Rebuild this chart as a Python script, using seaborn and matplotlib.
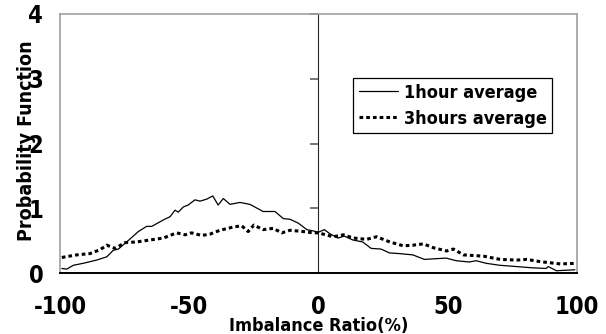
import numpy as np
import pandas as pd
import matplotlib
matplotlib.use("Agg")
import matplotlib.pyplot as plt
import seaborn as sns

# --- data ---
x_1h = [-99.3, -97.4, -94.8, -91.0, -85.8, -81.9, -79.4, -77.4, -74.2, -69.7,
        -66.5, -64.5, -60.0, -57.4, -55.5, -54.2, -52.3, -50.4, -47.8, -45.8,
        -43.3, -40.9, -38.8, -36.8, -34.2, -30.4, -26.5, -21.4, -16.8, -13.6,
        -11.0, -7.8, -4.5, -2.0, 0.0, 2.3, 4.3, 7.5, 10.0, 13.3,
        17.1, 20.4, 24.2, 27.5, 31.3, 36.5, 41.0, 44.9, 49.4, 53.3,
        58.4, 61.0, 64.9, 70.0, 76.5, 82.9, 88.1, 88.9, 92.1, 99.2]
y_1h = [0.07, 0.06, 0.12, 0.15, 0.20, 0.25, 0.35, 0.37, 0.48, 0.64,
        0.72, 0.72, 0.82, 0.87, 0.97, 0.94, 1.02, 1.05, 1.13, 1.11,
        1.14, 1.19, 1.05, 1.15, 1.06, 1.09, 1.06, 0.95, 0.95, 0.84,
        0.83, 0.77, 0.67, 0.65, 0.63, 0.67, 0.61, 0.54, 0.57, 0.51,
        0.48, 0.38, 0.37, 0.31, 0.30, 0.28, 0.21, 0.22, 0.23, 0.19,
        0.17, 0.19, 0.15, 0.12, 0.10, 0.08, 0.07, 0.10, 0.035, 0.05]

x_3h = [-99.3, -93.5, -88.4, -84.5, -81.9, -78.7, -74.8, -70.3, -65.2, -60.0,
        -54.9, -51.6, -49.1, -45.2, -42.0, -38.1, -33.0, -29.7, -27.2, -25.0,
        -21.4, -17.5, -14.2, -11.0, -5.9, -2.0, 0.0, 5.7, 9.6, 13.5,
        18.6, 22.5, 27.6, 32.8, 36.7, 40.6, 44.5, 49.6, 52.2, 56.1,
        63.9, 70.3, 76.8, 80.6, 85.9, 93.6, 100.0]
y_3h = [0.24, 0.28, 0.30, 0.36, 0.43, 0.38, 0.47, 0.48, 0.51, 0.54,
        0.62, 0.59, 0.62, 0.58, 0.60, 0.66, 0.71, 0.73, 0.64, 0.74,
        0.67, 0.69, 0.62, 0.66, 0.64, 0.62, 0.62, 0.56, 0.59, 0.54,
        0.52, 0.56, 0.48, 0.42, 0.43, 0.45, 0.39, 0.34, 0.37, 0.28,
        0.26, 0.21, 0.20, 0.21, 0.175, 0.14, 0.15]

x_ticks = [-100, -50, 0, 50, 100]
y_ticks = [0, 1, 2, 3, 4]

sns.set_style("white")
plt.rcParams['font.family'] = ['DejaVu Sans']
plt.rcParams['font.stretch'] = 'condensed'
plt.rcParams['font.weight'] = 'bold'
plt.rcParams['text.color'] = 'black'
plt.rcParams['xtick.color'] = 'black'
plt.rcParams['ytick.color'] = 'black'
plt.rcParams['axes.labelcolor'] = 'black'

fig = plt.figure(figsize=(6.06, 3.34), dpi=100)
ax = fig.add_axes([0.099, 0.1826, 0.853, 0.7755])

sns.lineplot(x=x_1h, y=y_1h, ax=ax, color='black', lw=0.9, label='1hour average')
sns.lineplot(x=x_3h, y=y_3h, ax=ax, color='black', lw=2.2,
             linestyle=(0, (1.2, 1.0)), label='3hours average')

ax.set_xlim(-100, 100)
ax.set_ylim(0, 4)

# frame: bottom black, others gray
for s in ['left', 'top', 'right']:
    ax.spines[s].set_color('#a0a0a0')
    ax.spines[s].set_linewidth(1.2)
ax.spines['bottom'].set_color('black')
ax.spines['bottom'].set_linewidth(1.4)

ax.set_xticks(x_ticks)
ax.set_xticklabels([str(v) for v in x_ticks])
ax.set_yticks(y_ticks)
ax.set_yticklabels([str(v) for v in y_ticks])
ax.tick_params(axis='x', direction='in', length=6, width=1.2, color='#606060',
               labelsize=17, pad=16)
ax.tick_params(axis='y', length=0, labelsize=17, pad=12)

# vertical axis at x=0 with ticks pointing right
sec = ax.secondary_yaxis(0.5)
sec.spines['left'].set_color('#303030')
sec.spines['left'].set_linewidth(1.4)
sec.set_yticks(y_ticks)
sec.set_yticklabels([])
sec.tick_params(direction='in', length=6, width=1.2, color='#606060',
                labelleft=False, labelright=False)

ax.set_xlabel('Imbalance Ratio(%)', fontsize=13, fontweight='bold')
ax.xaxis.set_label_coords(0.5, -0.17)
ax.set_ylabel('Probability Function', fontsize=14, fontweight='bold')
ax.yaxis.set_label_coords(-0.046, 0.51)

leg = ax.legend(loc='upper left', bbox_to_anchor=(0.567, 0.752), fontsize=13,
                frameon=True, fancybox=False, edgecolor='black', framealpha=1,
                handlelength=2.2, handletextpad=0.3, borderpad=0.3,
                labelspacing=0.45, borderaxespad=0)
leg.get_frame().set_linewidth(0.9)
for t in leg.get_texts():
    t.set_fontweight('bold')

fig.savefig('out.png', dpi=100)
